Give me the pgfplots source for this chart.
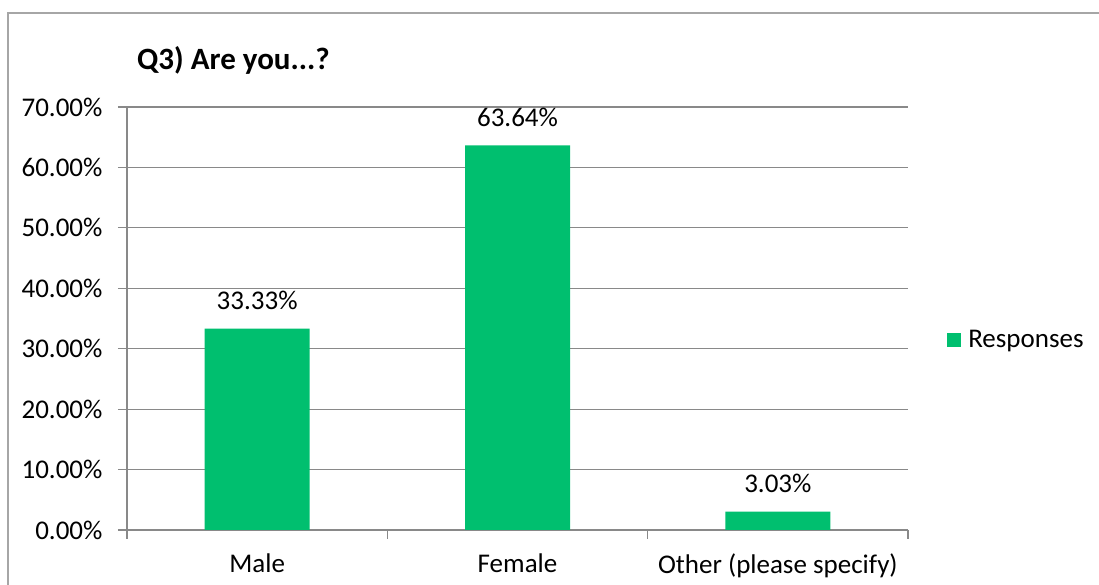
\documentclass[border=0pt]{standalone}
\usepackage{fontspec}
\setmainfont{Carlito}
\usepackage{pgfplots}
\pgfplotsset{compat=1.18}
\definecolor{smgreen}{HTML}{00BF6F}
\definecolor{axgray}{HTML}{898989}
\definecolor{framegray}{HTML}{A6A6A6}
\begin{document}
\begin{tikzpicture}[x=1pt,y=1pt]
  \useasboundingbox (0,0) rectangle (1099,585);
  % chart frame (cut at right and bottom edges)
  \draw[framegray, line width=1.5pt] (8,0) -- (8,572) -- (1099,572);
  \node[anchor=base west, inner sep=0pt, font=\fontsize{31}{36}\selectfont\bfseries] at (137,515) {Q3) Are you...?};
  \begin{axis}[
    at={(127pt,55pt)}, anchor=south west,
    scale only axis, width=781pt, height=423pt,
    ybar, bar width=105pt,
    xmin=-0.5, xmax=2.5, ymin=0, ymax=70,
    xtick={-0.5,0.5,1.5,2.5},
    x tick label as interval,
    xticklabels={Male,Female,Other (please specify)},
    ytick={0,10,...,70},
    yticklabel={\pgfmathprintnumber[fixed,precision=2,zerofill]{\tick}\%},
    /pgf/number format/assume math mode=true,
    axis x line*=bottom, axis y line*=left,
    axis line style={axgray, line width=1.2pt},
    ymajorgrids, major grid style={axgray, line width=1.2pt},
    tick align=outside, major tick length=9pt,
    tick style={axgray, line width=1.2pt},
    font=\fontsize{27}{32}\selectfont,
    ticklabel style={font=\fontsize{27}{32}\selectfont},
    yticklabel style={xshift=-12pt},
    xticklabel style={yshift=-11pt},
    nodes near coords={\pgfmathprintnumber[fixed,precision=2,zerofill]{\pgfplotspointmeta}\%},
    every node near coord/.append style={anchor=base, yshift=19pt, inner sep=0pt, font=\fontsize{27}{32}\selectfont},
    legend style={at={(axis description cs:1.05,0.449)}, anchor=west, draw=none, inner sep=0pt,
      column sep=5pt, font=\fontsize{27}{32}\selectfont},
    legend image code/.code={\fill[smgreen] (0pt,-7pt) rectangle (14pt,7pt);},
  ]
    \addplot[fill=smgreen, draw=none] coordinates {(0,33.33) (1,63.64) (2,3.03)};
    \addlegendentry{Responses}
  \end{axis}
\end{tikzpicture}
\end{document}
